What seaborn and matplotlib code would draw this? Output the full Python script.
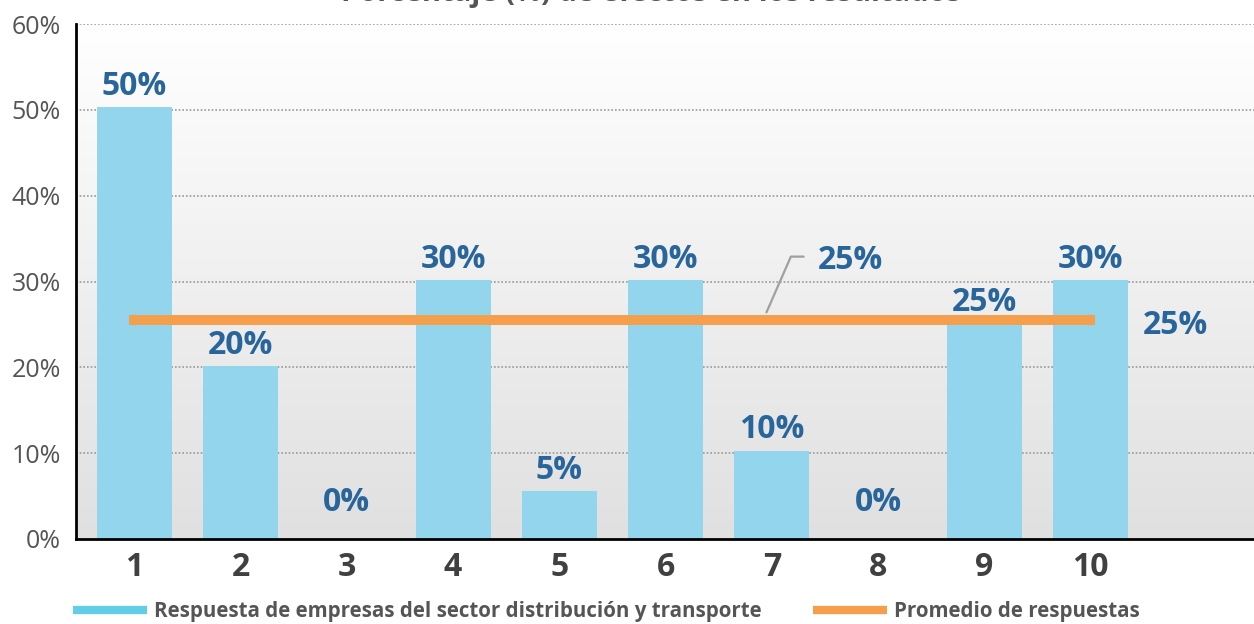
"""Bar chart: respuestas por calificación, con línea de promedio."""
import matplotlib.pyplot as plt
import numpy as np
import pandas as pd
import seaborn as sns
from matplotlib.lines import Line2D

categories = ['1', '2', '3', '4', '5', '6', '7', '8', '9', '10']
values = [50.3, 20.2, 0, 30.2, 5.6, 30.2, 10.3, 0, 25.2, 30.2]
labels = ['50%', '20%', '0%', '30%', '5%', '30%', '10%', '0%', '25%', '30%']
average = 25.5
average_label = '25%'
y_ticks = [0, 10, 20, 30, 40, 50, 60]
title = 'Porcentaje (%) de efectos en los resultados'
series_names = ['Respuesta de empresas del sector distribución y transporte',
                'Promedio de respuestas']

BAR = '#93d5ec'
BAR_LEGEND = '#62cde6'
ORANGE = '#f59e4b'
LABEL = '#28659a'
GRAY = '#555555'

sns.set_style('white')
plt.rcParams['font.family'] = ['Open Sans', 'DejaVu Sans']

df = pd.DataFrame({'cat': categories, 'val': values})

fig = plt.figure(figsize=(12.54, 6.24), dpi=100)
ax = fig.add_axes([76 / 1254, 85 / 624, 1 - 76 / 1254, 515 / 624])

# background gradient, white on top to light gray at the bottom
grad = np.linspace(1, 0, 256).reshape(-1, 1)
ax.imshow(grad, extent=[0, 1, 0, 1], transform=ax.transAxes, aspect='auto',
          cmap=sns.blend_palette(['#e0e0e0', '#ffffff'], as_cmap=True), zorder=0)

for t in y_ticks[1:]:
    ax.axhline(t, color='#999999', lw=1.2, ls=(0, (1, 1.2)), zorder=1)

sns.barplot(data=df, x='cat', y='val', order=categories, color=BAR,
            saturation=1, width=0.705, linewidth=0, ax=ax, zorder=2)

xs = np.arange(len(categories))
ax.plot([xs[0], xs[-1]], [average, average], color=ORANGE, lw=7.2,
        solid_capstyle='projecting', zorder=3)

for x, v, lab in zip(xs, values, labels):
    ax.text(x, max(v + 2.4, 4.2), lab, ha='center', va='center', fontsize=23,
            fontweight='bold', color=LABEL, zorder=4)

# callout label for the average line
ax.plot([5.95, 6.18, 6.30], [26.4, 32.9, 32.9], color='#a0a0a0', lw=1.6, zorder=4)
ax.text(6.74, 32.4, average_label, ha='center', va='center', fontsize=23,
        fontweight='bold', color=LABEL, zorder=4)
ax.text(9.8, 24.9, average_label, ha='center', va='center', fontsize=23,
        fontweight='bold', color=LABEL, zorder=4)

ax.set_xlim(-0.55, 10.54)
ax.set_ylim(0, 60)
ax.set_yticks(y_ticks)
ax.set_yticklabels([f'{t}%' for t in y_ticks])
ax.set_xlabel('')
ax.set_ylabel('')
ax.tick_params(axis='y', length=0, pad=11, labelsize=18, labelcolor=GRAY)
ax.tick_params(axis='x', length=0, pad=9, labelsize=23, labelcolor='#404040')
for t in ax.get_xticklabels():
    t.set_fontweight('bold')

for side in ['top', 'right']:
    ax.spines[side].set_visible(False)
for side in ['left', 'bottom']:
    ax.spines[side].set_color('black')
    ax.spines[side].set_linewidth(2)
    ax.spines[side].set_zorder(5)

fig.text(651 / 1254, 1 - 1.5 / 624, title, ha='center', va='baseline',
         fontsize=21, fontweight='bold', color=GRAY)

handles = [Line2D([], [], color=BAR_LEGEND, lw=6, solid_capstyle='butt'),
           Line2D([], [], color=ORANGE, lw=6, solid_capstyle='butt')]
fig.legend(handles, series_names, loc='center left',
           bbox_to_anchor=(73 / 1254, 12 / 624), ncol=2, frameon=False,
           prop={'weight': 'bold', 'size': 14.8}, labelcolor=GRAY,
           handlelength=3.6, handletextpad=0.35, columnspacing=2.5,
           borderpad=0, borderaxespad=0)

fig.savefig('out.png', dpi=100)
